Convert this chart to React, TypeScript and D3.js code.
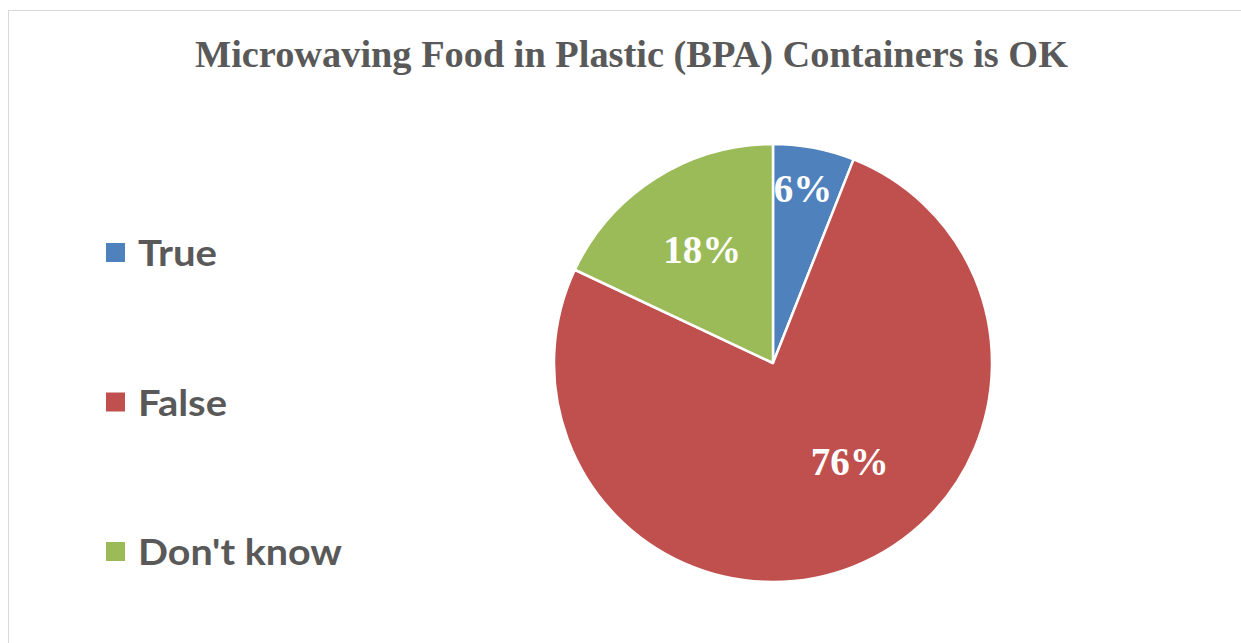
import React from "react";
import * as d3 from "d3";

const categories = ["True", "False", "Don't know"];
const values = [6, 76, 18];
const colors = ["#4f81bd", "#c0504d", "#9bbb59"];
const titleText = "Microwaving Food in Plastic (BPA) Containers is OK";

// label placement (radius fraction, angle in degrees from top, clockwise)
const labelPlacement = [
  { r: 0.81, a: 9.7 },
  { r: 0.57, a: 142 },
  { r: 0.61, a: 328 },
];

export default function App() {
  const W = 1241;
  const H = 643;
  const cx = 773;
  const cy = 363;
  const R = 219;

  const pie = d3
    .pie<number>()
    .sort(null)
    .value((d) => d);
  const arcs = pie(values);
  const arc = d3.arc<d3.PieArcDatum<number>>().innerRadius(0).outerRadius(R);
  const total = d3.sum(values);

  const legendY = d3.scalePoint<string>().domain(categories).range([253, 552]);
  const legendWidths = [79, 89, 204];

  return (
    <svg
      width={W}
      height={H}
      style={{ position: "absolute", left: 0, top: 0, background: "#fff" }}
    >
      <rect x={8.5} y={10.5} width={1400} height={800} fill="#fff" stroke="#d9d9d9" strokeWidth={1} />
      <text
        x={195}
        y={67}
        fontFamily="'Liberation Serif', 'DejaVu Serif', serif"
        fontWeight="bold"
        fontSize={38}
        fill="#595959"
        textLength={873}
        lengthAdjust="spacingAndGlyphs"
      >
        {titleText}
      </text>
      <g transform={`translate(${cx},${cy})`}>
        {arcs.map((a, i) => (
          <path key={i} d={arc(a) || ""} fill={colors[i]} stroke="#fff" strokeWidth={2.5} strokeLinejoin="round" />
        ))}
        {arcs.map((a, i) => {
          const p = labelPlacement[i];
          const ang = (p.a * Math.PI) / 180;
          const x = Math.sin(ang) * p.r * R;
          const y = -Math.cos(ang) * p.r * R;
          return (
            <text
              key={i}
              x={x}
              y={y}
              textAnchor="middle"
              dominantBaseline="central"
              fontFamily="'Liberation Serif', 'DejaVu Serif', serif"
              fontWeight="bold"
              fontSize={39}
              fill="#fff"
            >
              {Math.round((values[i] / total) * 100)}%
            </text>
          );
        })}
      </g>
      {categories.map((c, i) => {
        const y = legendY(c) as number;
        return (
          <g key={c}>
            <rect x={106} y={y - 10} width={19} height={19} fill={colors[i]} />
            <text
              x={138}
              y={y + 13}
              fontFamily="Lato, 'Open Sans', sans-serif"
              fontWeight="bold"
              fontSize={36}
              fill="#595959"
              textLength={legendWidths[i]}
              lengthAdjust="spacingAndGlyphs"
            >
              {c}
            </text>
          </g>
        );
      })}
    </svg>
  );
}
